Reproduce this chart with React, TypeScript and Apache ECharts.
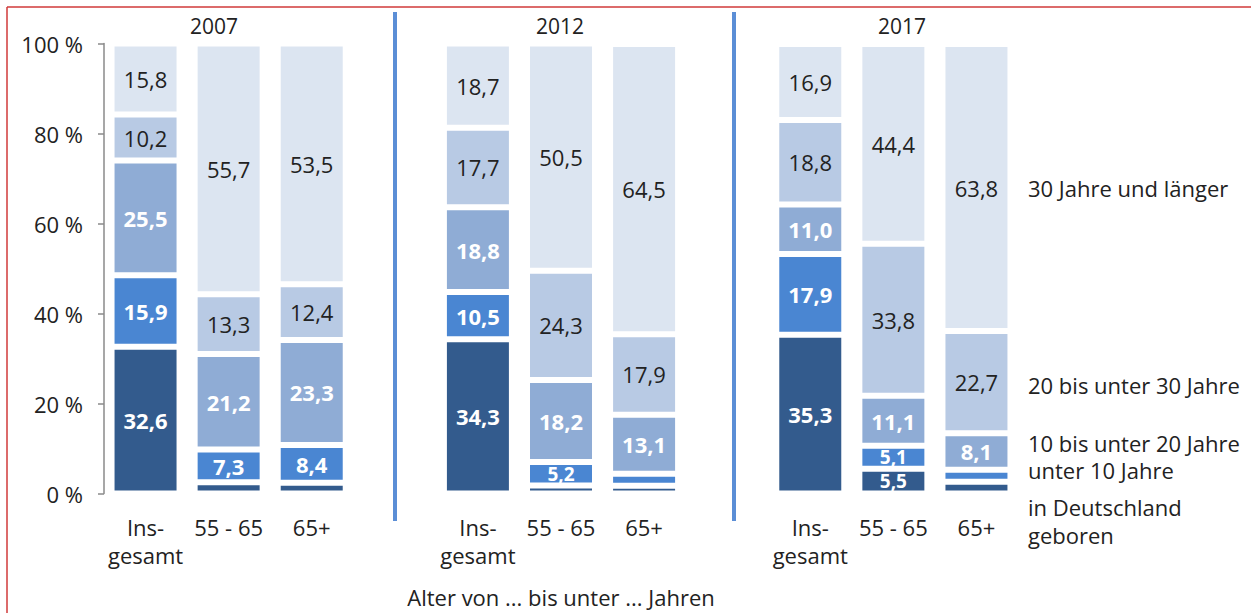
import React, { useEffect, useRef } from "react";
import * as echarts from "echarts";

const years = ["2007", "2012", "2017"];
const ageGroups = ["Ins-\ngesamt", "55 - 65", "65+"];
const seriesNames = [
  "in Deutschland geboren",
  "unter 10 Jahre",
  "10 bis unter 20 Jahre",
  "20 bis unter 30 Jahre",
  "30 Jahre und länger",
];
// order per year: Insgesamt, 55-65, 65+
const geboren = [32.6, 2.5, 2.4, 34.3, 1.8, 1.7, 35.3, 5.5, 2.6];
const unter10 = [15.9, 7.3, 8.4, 10.5, 5.2, 2.7, 17.9, 5.1, 2.7];
const bis20 = [25.5, 21.2, 23.3, 18.8, 18.2, 13.1, 11.0, 11.1, 8.1];
const bis30 = [10.2, 13.3, 12.4, 17.7, 24.3, 17.9, 18.8, 33.8, 22.7];
const ab30 = [15.8, 55.7, 53.5, 18.7, 50.5, 64.5, 16.9, 44.4, 63.8];
const yTicks = [0, 20, 40, 60, 80, 100];

const colors = ["#335B8D", "#4A86D2", "#8FACD5", "#B8CAE4", "#DCE5F1"];
const labelWhite = [true, true, true, false, false];
const FONT = "Open Sans";

// insert an empty slot between year groups
function withGaps<T>(arr: T[], gap: T): T[] {
  const out: T[] = [];
  years.forEach((_, yi) => {
    if (yi > 0) out.push(gap);
    for (let a = 0; a < ageGroups.length; a++) out.push(arr[yi * ageGroups.length + a]);
  });
  return out;
}

const categories = withGaps(
  years.flatMap(() => ageGroups),
  ""
);
const allSeries = [geboren, unter10, bis20, bis30, ab30];

export default function App() {
  const ref = useRef<HTMLDivElement>(null);
  useEffect(() => {
    if (!ref.current) return;
    const chart = echarts.init(ref.current, undefined, { renderer: "svg" });
    const textStyle = { fill: "#222", fontFamily: FONT, fontSize: 22 };
    chart.setOption({
      animation: false,
      backgroundColor: "#fff",
      grid: { left: 104, right: 1251 - 1018, top: 43.5, bottom: 613 - 493.5, containLabel: false },
      xAxis: {
        type: "category",
        data: categories,
        axisLine: { show: false },
        axisTick: { show: false },
        axisLabel: {
          interval: 0,
          color: "#222",
          fontFamily: FONT,
          fontSize: 22,
          lineHeight: 28,
          margin: 19,
        },
      },
      yAxis: {
        type: "value",
        min: 0,
        max: 100,
        interval: 20,
        splitLine: { show: false },
        axisLine: { show: true, lineStyle: { color: "#8a8a8a", width: 1.5 } },
        axisTick: { show: true, length: 6, lineStyle: { color: "#8a8a8a", width: 1.5 } },
        axisLabel: {
          color: "#222",
          fontFamily: FONT,
          fontSize: 22,
          margin: 21,
          formatter: (v: number) => (yTicks.includes(v) ? `${v} %` : ""),
        },
      },
      series: allSeries.map((vals, si) => ({
        name: seriesNames[si],
        type: "bar",
        stack: "total",
        barWidth: 68,
        data: withGaps<number | null>(vals, null).map((v) =>
          v != null && v < 6 ? { value: v, label: { fontSize: 19, lineHeight: 16 } } : v
        ),
        itemStyle: { color: colors[si], borderColor: "#fff", borderWidth: 3 },
        label: {
          show: true,
          position: "inside",
          color: labelWhite[si] ? "#fff" : "#222",
          fontWeight: labelWhite[si] ? "bold" : "normal",
          fontFamily: FONT,
          fontSize: 22,
          lineHeight: 19,
          formatter: (p: any) =>
            p.value != null && p.value >= 5 ? p.value.toFixed(1).replace(".", ",") : "",
        },
      })),
      graphic: [
        { type: "line", shape: { x1: 7, y1: 7, x2: 1251, y2: 7 }, style: { stroke: "#d03a3a", lineWidth: 1.5 } },
        { type: "line", shape: { x1: 7, y1: 7, x2: 7, y2: 613 }, style: { stroke: "#d03a3a", lineWidth: 1.5 } },
        { type: "rect", shape: { x: 393, y: 12, width: 4, height: 509 }, style: { fill: "#5B8ED6" } },
        { type: "rect", shape: { x: 732, y: 12, width: 4, height: 509 }, style: { fill: "#5B8ED6" } },
        { type: "text", x: 214, y: 26, style: { ...textStyle, fontSize: 21, text: years[0], align: "center", verticalAlign: "middle" } },
        { type: "text", x: 560, y: 26, style: { ...textStyle, fontSize: 21, text: years[1], align: "center", verticalAlign: "middle" } },
        { type: "text", x: 902, y: 26, style: { ...textStyle, fontSize: 21, text: years[2], align: "center", verticalAlign: "middle" } },
        { type: "text", x: 1028, y: 188, style: { ...textStyle, text: seriesNames[4], verticalAlign: "middle" } },
        { type: "text", x: 1028, y: 385, style: { ...textStyle, text: seriesNames[3], verticalAlign: "middle" } },
        { type: "text", x: 1028, y: 443, style: { ...textStyle, text: seriesNames[2], verticalAlign: "middle" } },
        { type: "text", x: 1028, y: 470, style: { ...textStyle, text: seriesNames[1], verticalAlign: "middle" } },
        { type: "text", x: 1028, y: 507, style: { ...textStyle, text: "in Deutschland", verticalAlign: "middle" } },
        { type: "text", x: 1028, y: 535, style: { ...textStyle, text: "geboren", verticalAlign: "middle" } },
        {
          type: "text",
          x: 561,
          y: 597,
          style: { ...textStyle, text: "Alter von ... bis unter ... Jahren", align: "center", verticalAlign: "middle" },
        },
      ],
    });
    return () => chart.dispose();
  }, []);
  return (
    <div
      ref={ref}
      style={{ position: "fixed", left: 0, top: 0, width: 1251, height: 613, background: "#fff" }}
    />
  );
}
